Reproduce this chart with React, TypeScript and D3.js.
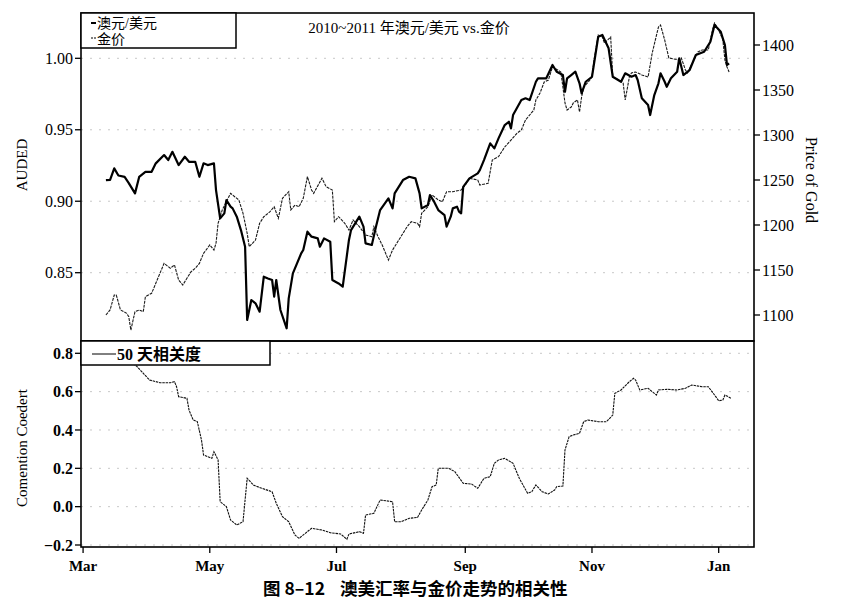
import * as d3 from 'd3';

// 2010-03 ~ 2011-01 AUD/USD daily
const audUsd: [string, number][] = [
  ['2010-03-12', 0.9148], ['2010-03-14', 0.915], ['2010-03-16', 0.923], ['2010-03-18', 0.918],
  ['2010-03-21', 0.917], ['2010-03-23', 0.9127], ['2010-03-26', 0.9055], ['2010-03-28', 0.917],
  ['2010-03-31', 0.9206], ['2010-04-03', 0.9206], ['2010-04-05', 0.9265], ['2010-04-09', 0.9323],
  ['2010-04-11', 0.9288], ['2010-04-13', 0.9346], ['2010-04-16', 0.9253], ['2010-04-19', 0.9311],
  ['2010-04-21', 0.9276], ['2010-04-24', 0.9276], ['2010-04-26', 0.9171], ['2010-04-28', 0.9265],
  ['2010-04-30', 0.9253], ['2010-05-03', 0.9265], ['2010-05-04', 0.9078], ['2010-05-06', 0.888],
  ['2010-05-08', 0.8915], ['2010-05-09', 0.9008], ['2010-05-11', 0.8962], ['2010-05-12', 0.895],
  ['2010-05-14', 0.8892], ['2010-05-16', 0.8798], ['2010-05-18', 0.8682], ['2010-05-19', 0.8169],
  ['2010-05-21', 0.8309], ['2010-05-23', 0.8286], ['2010-05-25', 0.8227], ['2010-05-27', 0.8472],
  ['2010-05-29', 0.846], ['2010-05-31', 0.8449], ['2010-06-01', 0.8332], ['2010-06-02', 0.8449],
  ['2010-06-04', 0.8239], ['2010-06-07', 0.8111], ['2010-06-08', 0.832], ['2010-06-10', 0.8495],
  ['2010-06-14', 0.8635], ['2010-06-15', 0.8659], ['2010-06-17', 0.8787], ['2010-06-19', 0.8752],
  ['2010-06-22', 0.874], ['2010-06-23', 0.8682], ['2010-06-25', 0.874], ['2010-06-28', 0.8717],
  ['2010-06-29', 0.8449], ['2010-07-02', 0.8425], ['2010-07-04', 0.8402], ['2010-07-07', 0.8729],
  ['2010-07-08', 0.8798], ['2010-07-10', 0.8845], ['2010-07-12', 0.8892], ['2010-07-14', 0.8822],
  ['2010-07-15', 0.8705], ['2010-07-18', 0.8694], ['2010-07-20', 0.8822], ['2010-07-22', 0.8938],
  ['2010-07-26', 0.902], ['2010-07-28', 0.895], ['2010-07-29', 0.9055], ['2010-08-02', 0.9148],
  ['2010-08-05', 0.9171], ['2010-08-08', 0.916], ['2010-08-10', 0.9055], ['2010-08-11', 0.895],
  ['2010-08-14', 0.8973], ['2010-08-15', 0.9043], ['2010-08-17', 0.8997], ['2010-08-19', 0.8938],
  ['2010-08-22', 0.8903], ['2010-08-23', 0.8822], ['2010-08-25', 0.8892], ['2010-08-26', 0.895],
  ['2010-08-28', 0.8962], ['2010-08-29', 0.8927], ['2010-08-30', 0.8915], ['2010-08-31', 0.9101],
  ['2010-09-03', 0.916], ['2010-09-07', 0.9195], ['2010-09-08', 0.9218], ['2010-09-10', 0.9288],
  ['2010-09-13', 0.9405], ['2010-09-15', 0.937], ['2010-09-17', 0.944], ['2010-09-20', 0.9533],
  ['2010-09-22', 0.9556], ['2010-09-23', 0.951], ['2010-09-24', 0.9603], ['2010-09-28', 0.9708],
  ['2010-09-30', 0.972], ['2010-10-02', 0.9708], ['2010-10-05', 0.9836], ['2010-10-06', 0.986],
  ['2010-10-10', 0.986], ['2010-10-13', 0.9953], ['2010-10-15', 0.9906], ['2010-10-18', 0.9883],
  ['2010-10-19', 0.9766], ['2010-10-20', 0.986], ['2010-10-22', 0.9883], ['2010-10-24', 0.9906],
  ['2010-10-26', 0.9825], ['2010-10-27', 0.9755], ['2010-10-29', 0.9836], ['2010-11-01', 0.9871],
  ['2010-11-04', 1.0151], ['2010-11-06', 1.0163], ['2010-11-09', 1.007], ['2010-11-11', 0.9871],
  ['2010-11-15', 0.9836], ['2010-11-17', 0.9895], ['2010-11-20', 0.9871], ['2010-11-22', 0.9883],
  ['2010-11-23', 0.9848], ['2010-11-25', 0.972], ['2010-11-28', 0.9673], ['2010-11-29', 0.9603],
  ['2010-12-01', 0.9743], ['2010-12-03', 0.9825], ['2010-12-04', 0.9895], ['2010-12-06', 0.9836],
  ['2010-12-07', 0.9801], ['2010-12-09', 0.986], ['2010-12-12', 0.9906], ['2010-12-13', 1.0],
  ['2010-12-15', 0.9883], ['2010-12-18', 0.9918], ['2010-12-21', 1.0023], ['2010-12-25', 1.0046],
  ['2010-12-28', 1.0116], ['2010-12-30', 1.0233], ['2011-01-02', 1.0186], ['2011-01-04', 1.0093],
  ['2011-01-05', 0.9953], ['2011-01-06', 0.9965],
];

// gold price, USD/oz
const goldPrice: [string, number][] = [
  ['2010-03-12', 1100], ['2010-03-14', 1105.6], ['2010-03-16', 1122.2], ['2010-03-17', 1122.2],
  ['2010-03-19', 1105.6], ['2010-03-22', 1101.9], ['2010-03-23', 1098.1], ['2010-03-24', 1083.3],
  ['2010-03-26', 1103.7], ['2010-03-28', 1105.6], ['2010-03-30', 1103.7], ['2010-03-31', 1120.3],
  ['2010-04-03', 1124.1], ['2010-04-05', 1135.2], ['2010-04-07', 1146.3], ['2010-04-09', 1157.4],
  ['2010-04-12', 1151.9], ['2010-04-14', 1155.6], ['2010-04-16', 1138.9], ['2010-04-18', 1133.3],
  ['2010-04-20', 1140.8], ['2010-04-22', 1148.1], ['2010-04-24', 1151.9], ['2010-04-26', 1157.4],
  ['2010-04-28', 1168.5], ['2010-05-01', 1177.8], ['2010-05-03', 1172.2], ['2010-05-04', 1179.7],
  ['2010-05-05', 1201.9], ['2010-05-07', 1216.7], ['2010-05-09', 1225.9], ['2010-05-11', 1235.2],
  ['2010-05-13', 1231.4], ['2010-05-15', 1227.8], ['2010-05-17', 1213], ['2010-05-19', 1190.8],
  ['2010-05-20', 1175.9], ['2010-05-23', 1183.3], ['2010-05-25', 1201.9], ['2010-05-27', 1209.2],
  ['2010-05-30', 1214.8], ['2010-06-01', 1220.3], ['2010-06-03', 1207.4], ['2010-06-05', 1229.7],
  ['2010-06-08', 1237], ['2010-06-09', 1216.7], ['2010-06-11', 1222.2], ['2010-06-13', 1220.3],
  ['2010-06-15', 1229.7], ['2010-06-17', 1253.7], ['2010-06-19', 1238.9], ['2010-06-20', 1235.2],
  ['2010-06-24', 1251.9], ['2010-06-26', 1242.6], ['2010-06-29', 1238.9], ['2010-06-30', 1203.7],
  ['2010-07-02', 1209.2], ['2010-07-05', 1201.9], ['2010-07-07', 1194.4], ['2010-07-09', 1205.6],
  ['2010-07-12', 1198.1], ['2010-07-15', 1188.9], ['2010-07-18', 1187], ['2010-07-19', 1198.1],
  ['2010-07-21', 1187], ['2010-07-23', 1177.8], ['2010-07-26', 1161.1], ['2010-07-28', 1172.2],
  ['2010-07-30', 1179.7], ['2010-08-01', 1187], ['2010-08-04', 1198.1], ['2010-08-06', 1203.7],
  ['2010-08-09', 1201.9], ['2010-08-10', 1198.1], ['2010-08-11', 1213], ['2010-08-14', 1220.3],
  ['2010-08-16', 1233.3], ['2010-08-19', 1227.8], ['2010-08-21', 1225.9], ['2010-08-23', 1237],
  ['2010-08-26', 1237], ['2010-08-30', 1238.9], ['2010-09-01', 1244.4], ['2010-09-03', 1251.9],
  ['2010-09-07', 1250], ['2010-09-08', 1244.4], ['2010-09-12', 1246.3], ['2010-09-14', 1272.2],
  ['2010-09-17', 1275.9], ['2010-09-20', 1286.7], ['2010-09-23', 1294.4], ['2010-09-26', 1302.2],
  ['2010-09-28', 1305.6], ['2010-09-30', 1316.7], ['2010-10-02', 1322.2], ['2010-10-04', 1327.8],
  ['2010-10-05', 1338.9], ['2010-10-07', 1346.7], ['2010-10-09', 1358.9], ['2010-10-11', 1361.1],
  ['2010-10-13', 1375.6], ['2010-10-14', 1374.4], ['2010-10-17', 1370], ['2010-10-18', 1353.3],
  ['2010-10-19', 1335.6], ['2010-10-20', 1327.8], ['2010-10-22', 1331.1], ['2010-10-23', 1335.6],
  ['2010-10-25', 1338.9], ['2010-10-26', 1325.6], ['2010-10-27', 1342.2], ['2010-10-28', 1353.3],
  ['2010-10-31', 1361.1], ['2010-11-01', 1364.4], ['2010-11-02', 1383.3], ['2010-11-04', 1411.1],
  ['2010-11-06', 1408.9], ['2010-11-07', 1402.2], ['2010-11-10', 1408.9], ['2010-11-11', 1364.4],
  ['2010-11-14', 1361.1], ['2010-11-16', 1357.8], ['2010-11-17', 1338.9], ['2010-11-19', 1364.4],
  ['2010-11-20', 1368.9], ['2010-11-22', 1370], ['2010-11-25', 1366.7], ['2010-11-28', 1364.4],
  ['2010-11-30', 1391.1], ['2010-12-03', 1420], ['2010-12-04', 1422.2], ['2010-12-06', 1405.6],
  ['2010-12-08', 1385.6], ['2010-12-13', 1383.3], ['2010-12-14', 1385.6], ['2010-12-16', 1372.2],
  ['2010-12-17', 1368.9], ['2010-12-20', 1383.3], ['2010-12-22', 1392.2], ['2010-12-24', 1394.4],
  ['2010-12-27', 1394.4], ['2010-12-29', 1416.7], ['2010-12-30', 1424.4], ['2011-01-01', 1416.7],
  ['2011-01-03', 1405.6], ['2011-01-04', 1383.3], ['2011-01-05', 1375.6], ['2011-01-06', 1370],
];

// 50-day rolling correlation
const corr50: [string, number][] = [
  ['2010-03-12', 0.8], ['2010-03-20', 0.78], ['2010-03-24', 0.76], ['2010-03-27', 0.73],
  ['2010-03-30', 0.6957], ['2010-04-02', 0.6607], ['2010-04-07', 0.6466], ['2010-04-12', 0.6466],
  ['2010-04-14', 0.6519], ['2010-04-15', 0.6258], ['2010-04-16', 0.5736], ['2010-04-20', 0.5653],
  ['2010-04-21', 0.5042], ['2010-04-23', 0.4521], ['2010-04-25', 0.4432], ['2010-04-27', 0.3477],
  ['2010-04-28', 0.2695], ['2010-05-02', 0.2523], ['2010-05-03', 0.2867], ['2010-05-05', 0.2434],
  ['2010-05-06', 0.0259], ['2010-05-09', 0.0], ['2010-05-11', -0.0696], ['2010-05-14', -0.0957],
  ['2010-05-17', -0.0785], ['2010-05-19', 0.148], ['2010-05-22', 0.113], ['2010-05-26', 0.0958],
  ['2010-05-31', 0.078], ['2010-06-02', 0.0175], ['2010-06-05', -0.0524], ['2010-06-08', -0.0785],
  ['2010-06-11', -0.1479], ['2010-06-13', -0.1651], ['2010-06-16', -0.139], ['2010-06-19', -0.1129],
  ['2010-06-24', -0.1218], ['2010-06-28', -0.1358], ['2010-07-03', -0.1426], ['2010-07-06', -0.1703],
  ['2010-07-07', -0.1426], ['2010-07-12', -0.1306], ['2010-07-14', -0.139], ['2010-07-15', -0.0435],
  ['2010-07-19', -0.0347], ['2010-07-22', 0.0347], ['2010-07-28', 0.0259], ['2010-07-29', -0.0785],
  ['2010-08-01', -0.0785], ['2010-08-05', -0.0607], ['2010-08-09', -0.0565], ['2010-08-11', -0.0174],
  ['2010-08-14', 0.0347], ['2010-08-16', 0.1041], ['2010-08-18', 0.113], ['2010-08-19', 0.2001],
  ['2010-08-24', 0.2001], ['2010-08-27', 0.1824], ['2010-08-31', 0.1219], ['2010-09-04', 0.1182],
  ['2010-09-07', 0.0958], ['2010-09-10', 0.1479], ['2010-09-13', 0.1563], ['2010-09-15', 0.2262],
  ['2010-09-17', 0.2434], ['2010-09-20', 0.2523], ['2010-09-24', 0.2262], ['2010-09-27', 0.148],
  ['2010-10-01', 0.0697], ['2010-10-03', 0.078], ['2010-10-05', 0.113], ['2010-10-08', 0.078],
  ['2010-10-11', 0.066], ['2010-10-14', 0.0869], ['2010-10-15', 0.1041], ['2010-10-18', 0.1078],
  ['2010-10-19', 0.2956], ['2010-10-21', 0.365], ['2010-10-23', 0.3738], ['2010-10-26', 0.3827],
  ['2010-10-28', 0.4432], ['2010-10-30', 0.4521], ['2010-11-04', 0.4432], ['2010-11-08', 0.4432],
  ['2010-11-11', 0.4781], ['2010-11-12', 0.5913], ['2010-11-15', 0.6086], ['2010-11-19', 0.6519],
  ['2010-11-21', 0.6696], ['2010-11-22', 0.6607], ['2010-11-24', 0.6086], ['2010-11-28', 0.6174],
  ['2010-11-30', 0.5997], ['2010-12-02', 0.5825], ['2010-12-03', 0.6086], ['2010-12-07', 0.6122],
  ['2010-12-12', 0.6086], ['2010-12-16', 0.6174], ['2010-12-19', 0.6346], ['2010-12-24', 0.6258],
  ['2010-12-27', 0.6258], ['2010-12-30', 0.5825], ['2011-01-01', 0.5527], ['2011-01-03', 0.5564],
  ['2011-01-04', 0.5825], ['2011-01-07', 0.5653],
];

const audTicks = [0.85, 0.9, 0.95, 1.0];
const goldTicks = [1100, 1150, 1200, 1250, 1300, 1350, 1400];
const corrTicks = [-0.2, 0, 0.2, 0.4, 0.6, 0.8];
const monthTicks = ['2010-03-01', '2010-05-01', '2010-07-01', '2010-09-01', '2010-11-01', '2011-01-01'];

const parse = d3.timeParse('%Y-%m-%d');

export default function App() {
  const W = 856;
  const H = 602;
  const left = 81;
  const right = 754;
  const top = 13;
  const mid = 341;
  const bottom = 547;

  const x = d3
    .scaleTime()
    .domain([parse('2010-02-28')!, parse('2011-01-18')!])
    .range([left, right]);
  const yAud = d3.scaleLinear().domain([0.85, 1.0]).range([272.7, 58.3]);
  const yGold = d3.scaleLinear().domain([1100, 1400]).range([315, 45]);
  const yCorr = d3.scaleLinear().domain([-0.2, 0.8]).range([545, 353.3]);

  const audLine = d3
    .line<[string, number]>()
    .x((d) => x(parse(d[0])!))
    .y((d) => yAud(d[1]));
  const goldLine = d3
    .line<[string, number]>()
    .x((d) => x(parse(d[0])!))
    .y((d) => yGold(d[1]));
  const corrLine = d3
    .line<[string, number]>()
    .x((d) => x(parse(d[0])!))
    .y((d) => yCorr(d[1]));

  const serif = '"Liberation Serif", "DejaVu Serif", serif';
  const cjk = '"Liberation Serif", "Noto Sans CJK SC", serif';
  const cjkBold = '"Noto Sans CJK SC", sans-serif';

  return (
    <svg
      width={W}
      height={H}
      viewBox={`0 0 ${W} ${H}`}
      style={{ position: 'absolute', left: 0, top: 0, background: '#fff' }}
    >
      <defs>
        <clipPath id="clipTop">
          <rect x={left} y={top} width={right - left} height={mid - top} />
        </clipPath>
        <clipPath id="clipBottom">
          <rect x={left} y={mid} width={right - left} height={bottom - mid} />
        </clipPath>
      </defs>

      {/* faint dotted grid */}
      {audTicks.map((t) => (
        <line key={`ga${t}`} x1={left} x2={right} y1={yAud(t)} y2={yAud(t)} stroke="#c8c8c8" strokeWidth={1} strokeDasharray="2 7" />
      ))}
      {corrTicks.map((t) => (
        <line key={`gc${t}`} x1={left} x2={right} y1={yCorr(t)} y2={yCorr(t)} stroke="#c8c8c8" strokeWidth={1} strokeDasharray="2 7" />
      ))}

      {/* series */}
      <g clipPath="url(#clipTop)">
        <path d={goldLine(goldPrice) ?? ''} fill="none" stroke="#1a1a1a" strokeWidth={1.1} strokeDasharray="3 1" />
        <path d={audLine(audUsd) ?? ''} fill="none" stroke="#000" strokeWidth={2.2} strokeLinejoin="round" />
      </g>
      <g clipPath="url(#clipBottom)">
        <path d={corrLine(corr50) ?? ''} fill="none" stroke="#111" strokeWidth={1.1} strokeDasharray="2.5 0.8" />
      </g>

      {/* panel frames */}
      <rect x={left} y={top} width={right - left} height={mid - top} fill="none" stroke="#000" strokeWidth={1.6} />
      <rect x={left} y={mid} width={right - left} height={bottom - mid} fill="none" stroke="#000" strokeWidth={1.6} />

      {/* upper legend */}
      <rect x={left} y={top} width={155} height={35} fill="#fff" stroke="#000" strokeWidth={1.5} />
      <line x1={91} x2={96} y1={23} y2={23} stroke="#000" strokeWidth={2} />
      <text x={97} y={28} fontFamily={cjk} fontSize={14} fill="#000">
        澳元/美元
      </text>
      <line x1={91} x2={93} y1={38} y2={38} stroke="#000" strokeWidth={1.2} />
      <line x1={94} x2={96} y1={38} y2={38} stroke="#000" strokeWidth={1.2} />
      <text x={97} y={44} fontFamily={cjk} fontSize={14} fill="#000">
        金价
      </text>

      {/* title */}
      <text x={409} y={33} textAnchor="middle" fontFamily={cjk} fontSize={15} fill="#000">
        2010~2011 年澳元/美元 vs.金价
      </text>

      {/* lower legend */}
      <rect x={left} y={mid} width={189} height={24} fill="#fff" stroke="#000" strokeWidth={1.5} />
      <line x1={92} x2={116} y1={354} y2={354} stroke="#000" strokeWidth={1} />
      <text x={117} y={360} fontFamily={cjk} fontSize={16} fontWeight="bold" fill="#000">
        50 天相关度
      </text>

      {/* left axis, upper */}
      {audTicks.map((t) => (
        <g key={`ta${t}`}>
          <line x1={left - 6} x2={left} y1={yAud(t)} y2={yAud(t)} stroke="#000" strokeWidth={1.3} />
          <text x={left - 8} y={yAud(t)} dy="0.35em" textAnchor="end" fontFamily={serif} fontSize={16} fill="#000">
            {t.toFixed(2)}
          </text>
        </g>
      ))}
      <text transform={`translate(27,165) rotate(-90)`} textAnchor="middle" fontFamily={serif} fontSize={15} fill="#000">
        AUDED
      </text>

      {/* right axis */}
      {goldTicks.map((t) => (
        <g key={`tg${t}`}>
          <line x1={right} x2={right + 6} y1={yGold(t)} y2={yGold(t)} stroke="#000" strokeWidth={1.3} />
          <text x={right + 8} y={yGold(t)} dy="0.35em" textAnchor="start" fontFamily={serif} fontSize={16} fill="#000">
            {t}
          </text>
        </g>
      ))}
      <text transform={`translate(806,180) rotate(90)`} textAnchor="middle" fontFamily={serif} fontSize={16} fill="#000">
        Price of Gold
      </text>

      {/* left axis, lower */}
      {corrTicks.map((t) => (
        <g key={`tc${t}`}>
          <line x1={left - 6} x2={left} y1={yCorr(t)} y2={yCorr(t)} stroke="#000" strokeWidth={1.3} />
          <text
            x={left - 8}
            y={yCorr(t)}
            dy="0.35em"
            textAnchor="end"
            fontFamily={serif}
            fontSize={16}
            fontWeight="bold"
            fill="#000"
          >
            {t < 0 ? `\u2212${Math.abs(t).toFixed(1)}` : t.toFixed(1)}
          </text>
        </g>
      ))}
      <text transform={`translate(27,448) rotate(-90)`} textAnchor="middle" fontFamily={serif} fontSize={15} fill="#000">
        Comention Coedert
      </text>

      {/* x axis */}
      {monthTicks.map((m) => {
        const d = parse(m)!;
        const px = x(d);
        return (
          <g key={m}>
            <line x1={px} x2={px} y1={bottom} y2={bottom + 6} stroke="#000" strokeWidth={1.3} />
            <text x={px} y={571} textAnchor="middle" fontFamily={serif} fontSize={15} fontWeight="bold" fill="#000">
              {d3.timeFormat('%b')(d)}
            </text>
          </g>
        );
      })}

      {/* caption */}
      <text x={263} y={595} fontFamily={cjkBold} fontSize={17.5} fontWeight="bold" fill="#000">
        图 8–12
      </text>
      <text x={340} y={595} fontFamily={cjkBold} fontSize={17.5} fontWeight="bold" fill="#000">
        澳美汇率与金价走势的相关性
      </text>
    </svg>
  );
}
